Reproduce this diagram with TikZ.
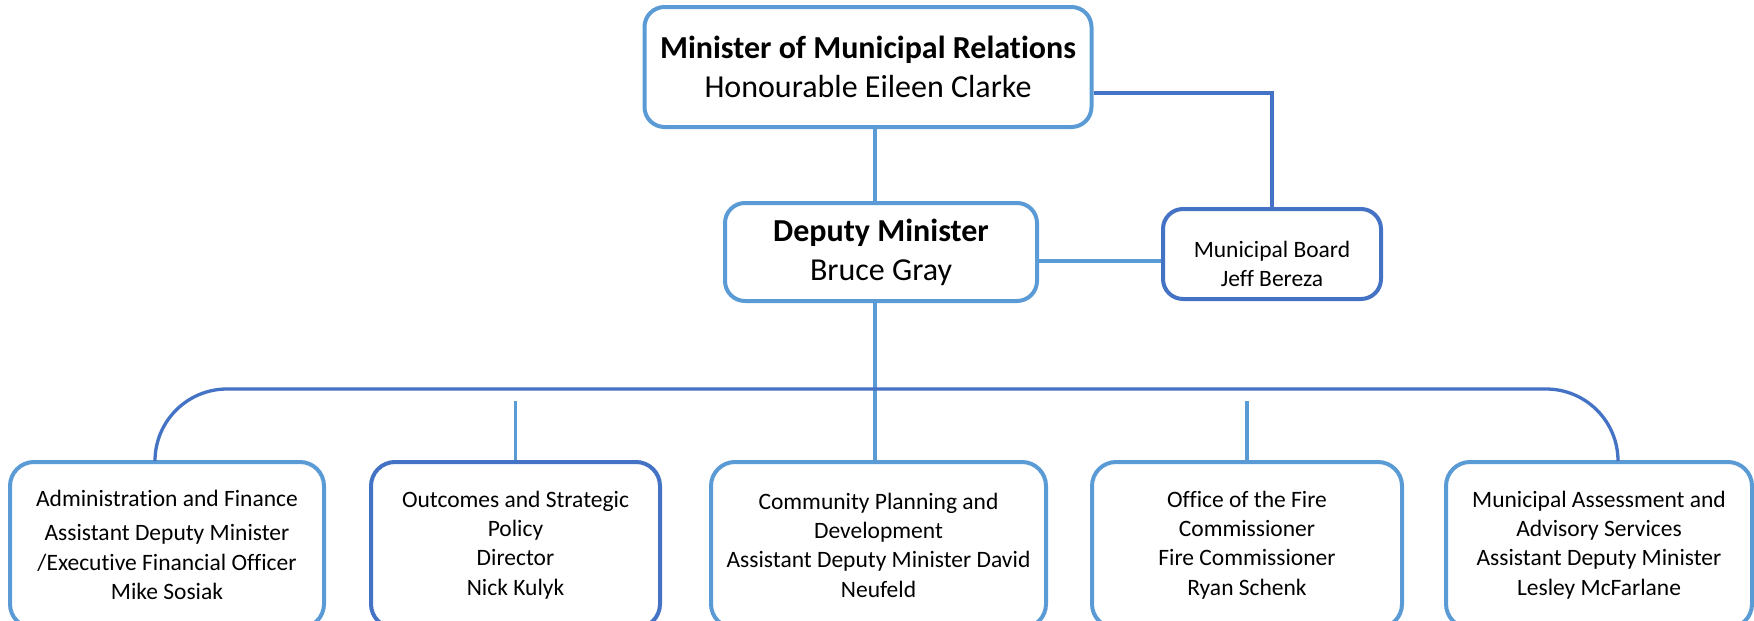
\documentclass[tikz,border=0pt]{standalone}
\usepackage{fontspec}
\setmainfont{Carlito}[Ligatures=NoCommon]
\usepackage{tikz}
\usetikzlibrary{positioning}
\definecolor{BoxBlue}{HTML}{5B9BD5}
\definecolor{LineBlue}{HTML}{4472C4}
\tikzset{
  headbox/.style={rectangle, rounded corners=20pt, draw=BoxBlue, line width=4pt, fill=white, align=center, font=\fontsize{32}{39}\selectfont, inner sep=0pt},
  boardbox/.style={rectangle, rounded corners=20pt, draw=LineBlue, line width=4pt, fill=white, align=center, font=\fontsize{23.5}{29}\selectfont, inner sep=0pt, minimum width=218pt, minimum height=90pt},
  unitbox/.style={rectangle, rounded corners=24pt, draw=BoxBlue, line width=4pt, fill=white, align=center, font=\fontsize{23.5}{29.3}\selectfont, inner sep=0pt, minimum height=166pt},
  linkline/.style={draw=BoxBlue, line width=3.3pt},
  busline/.style={draw=LineBlue, line width=3.3pt, rounded corners=72pt}
}
\begin{document}
\begin{tikzpicture}[x=1pt, y=-1pt]
  \useasboundingbox (0,0) rectangle (1754,621);
  % minister, deputy and board
  \node[headbox, minimum width=447pt, minimum height=120pt] (mr) at (868,67) {\textbf{Minister of Municipal Relations}\\Honourable Eileen Clarke};
  \node[headbox, minimum width=312pt, minimum height=98pt] (dm) at (881,252) {\textbf{Deputy Minister}\\Bruce Gray};
  \node[boardbox] (mb) at (1272,254) {\rule{0pt}{36pt}Municipal Board\\Jeff Bereza};

  % divisions
  \node[unitbox, minimum width=314pt] (af) at (167,545) {Administration and Finance\\[5pt]Assistant Deputy Minister\\/Executive Financial Officer\\Mike Sosiak};
  \node[unitbox, minimum width=289pt, draw=LineBlue, right=43pt of af] (os) {Outcomes and Strategic\\Policy\\Director\\Nick Kulyk};
  \node[unitbox, minimum width=335pt, right=47pt of os] (cp) {Community Planning and\\Development\\Assistant Deputy Minister David\\Neufeld};
  \node[unitbox, minimum width=310pt, right=42pt of cp] (fc) {Office of the Fire\\Commissioner\\Fire Commissioner\\Ryan Schenk};
  \node[unitbox, minimum width=306pt, right=40pt of fc] (ma) {Municipal Assessment and\\Advisory Services\\Assistant Deputy Minister\\Lesley McFarlane};

  % connectors
  \coordinate (hub) at (875,389);
  \draw[linkline] (mr.south -| hub) -- (dm.north -| hub);
  \draw[linkline, draw=LineBlue] ([yshift=-26pt]mr.east) -| (mb.north);
  \draw[linkline] ([yshift=-9pt]dm.east) -- ([yshift=-9pt]dm.east -| mb.west);
  \draw[linkline] (dm.south -| hub) -- (hub |- cp.north);
  \draw[busline] ([xshift=-12pt]af.north) |- (hub) -| ([xshift=19pt]ma.north);
  \draw[linkline] (os.north) -- ++(0,-59);
  \draw[linkline] (fc.north) -- ++(0,-59);
\end{tikzpicture}
\end{document}
